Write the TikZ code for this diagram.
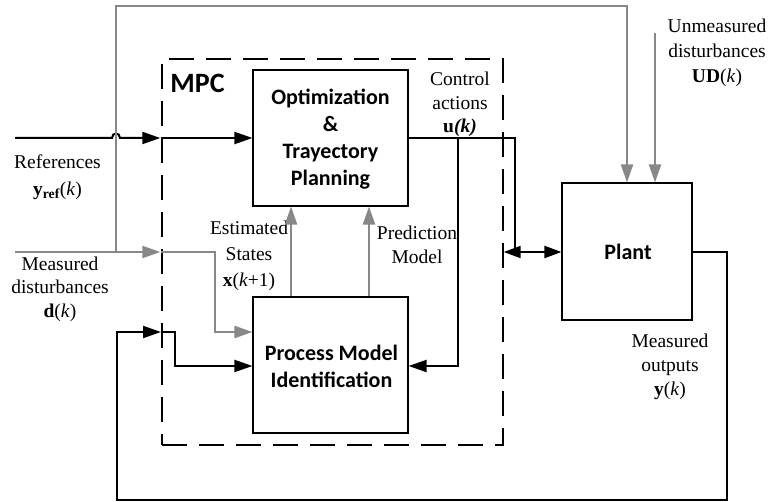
\documentclass[tikz,border=0pt]{standalone}
\usepackage{fontspec}
\setmainfont{Liberation Serif}
\newfontfamily\serfont{Liberation Serif}
\newfontfamily\calfont{Carlito}
\usetikzlibrary{arrows.meta}
\definecolor{sgray}{RGB}{136,136,136}
\begin{document}
\begin{tikzpicture}[x=1pt,y=-1pt,
  box/.style={draw, line width=1.1pt, inner sep=0pt},
  lbl/.style={font=\serfont\fontsize{19.5}{24}\selectfont, align=center, inner sep=0pt},
  bld/.style={font=\calfont\bfseries\fontsize{22}{27}\selectfont, align=center, inner sep=0pt},
  sig/.style={line width=2pt, black},
  gsig/.style={line width=2.2pt, sgray},
  tip/.style={-{Triangle[length=18pt,width=12pt]}},
  dtip/.style={{Triangle[length=17pt,width=12pt]}-{Triangle[length=17pt,width=12pt]}}]
\useasboundingbox (0,0) rectangle (773,502);

% boxes
\node[draw, line width=1.4pt, dash pattern=on 25pt off 12pt, minimum width=341pt, minimum height=386pt, inner sep=0pt] (mpc) at (332.5,252) {};
\node[box, minimum width=155pt, minimum height=136pt] (opt) at (330.5,138) {};
\node[box, minimum width=155pt, minimum height=136pt] (pm) at (330.5,365) {};
\node[box, minimum width=130pt, minimum height=137pt] (plant) at (627,251.5) {};

% bold texts
\node[bld, font=\calfont\bfseries\fontsize{28}{30}\selectfont] (mpct) at (197.5,83) {MPC};
\node[bld] (optt) at (330.5,139) {Optimization\\\&\\Trayectory\\Planning};
\node[bld] (pmt) at (331.5,366.5) {Process Model\\Identification};
\node[bld] (plantt) at (628,252) {Plant};

% serif labels
\node[lbl, font=\serfont\fontsize{19.5}{27}\selectfont] (reft) at (57.5,177) {References\\\textbf{y}\textsubscript{\textbf{ref}}(\textit{k})};
\node[lbl, font=\serfont\fontsize{19.5}{23.5}\selectfont] (mdt) at (60,289) {Measured\\disturbances\\\textbf{d}(\textit{k})};
\node[lbl, font=\serfont\fontsize{19.5}{26}\selectfont] (est) at (249,256) {Estimated\\States\\\textbf{x}(\textit{k}+1)};
\node[lbl] (predt) at (417,245) {Prediction\\Model};
\node[lbl, font=\serfont\fontsize{19.5}{23.5}\selectfont] (ctrlt) at (460,104.5) {Control\\actions\\\textbf{u}\textbf{\textit{(k)}}};
\node[lbl, font=\serfont\fontsize{19.5}{25}\selectfont] (udt) at (717,53) {Unmeasured\\disturbances\\\textbf{UD}(\textit{k})};
\node[lbl] (moutt) at (670,367) {Measured\\outputs\\\textbf{y}(\textit{k})};

% free ends
\coordinate (refin) at (15,138);
\coordinate (mdin) at (15,252);
\coordinate (udin) at (655,33);
\coordinate (mpcref) at (mpc.west |- refin);
\coordinate (mpcmd) at (mpc.west |- mdin);
\coordinate (mpcfb) at (162,332);
\coordinate (split) at (116,252);
\coordinate (uj) at (458,138);
\coordinate (uc) at (515,138);
\coordinate (ud) at (515,252);
\coordinate (mpcu) at (mpc.east |- ud);

% references (with hop over gray line)
\draw[sig, tip] (refin) -- (112,138) .. controls (112,132) and (120,132) .. (120,138) -- ([xshift=-1pt]mpcref);
\draw[sig, tip] (mpcref) -- (opt.west |- refin);

% measured disturbances
\draw[gsig, tip] (mdin) -- ([xshift=-1pt]mpcmd);
\draw[gsig, tip] (mpcmd) -- (215,252) -- (215,332) -- (pm.west |- 0,332);
\draw[gsig, tip] (split) -- (116,6) -- (627,6) -- (plant.north);
\draw[gsig, tip] (udin) -- (plant.north -| udin);

% estimated states / prediction model
\draw[gsig, tip] (pm.north -| 291,0) -- (opt.south -| 291,0);
\draw[gsig, tip] (pm.north -| 369,0) -- (opt.south -| 369,0);

% control actions
\draw[sig] (opt.east |- refin) -- (uc) -- (ud);
\draw[sig, dtip] (mpcu) -- (plant.west |- mpcu);
\draw[sig, tip] (uj) -- (458,366) -- (pm.east |- 0,366);

% feedback
\draw[sig, tip] (plant.east |- ud) -- (727,252) -- (727,500) -- (117,500) -- (117,332) -- ([xshift=-1pt]mpcfb);
\draw[sig, tip] (mpcfb) -- (175,332) -- (175,366) -- (pm.west |- 0,366);
\end{tikzpicture}
\end{document}
